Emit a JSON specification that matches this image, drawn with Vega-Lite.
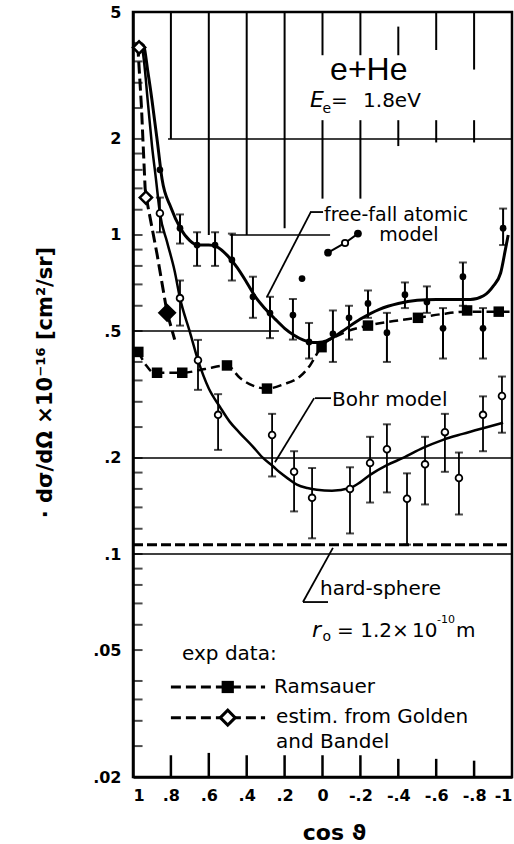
{
  "$schema": "https://vega.github.io/schema/vega-lite/v6.json",
  "width": 379,
  "height": 765,
  "autosize": {"type": "none"},
  "padding": {"left": 133, "top": 12, "right": 2, "bottom": 67},
  "background": "white",
  "config": {
    "view": {"stroke": "black", "strokeWidth": 2.5},
    "font": "DejaVu Sans"
  },
  "datasets": {
    "hgrid": [
      {"v": 2, "c": 0.815, "c2": -1},
      {"v": 1, "c": 0.49, "c2": -0.04},
      {"v": 0.5, "c": 1, "c2": 0.23},
      {"v": 0.2, "c": 1, "c2": -1},
      {"v": 0.1, "c": 1, "c2": -1}
    ],
    "vgrid": [
      {"c": 0.8, "v": 5, "v2": 2},
      {"c": 0.6, "v": 5, "v2": 1},
      {"c": 0.4, "v": 5, "v2": 1},
      {"c": 0.2, "v": 5, "v2": 1.05},
      {"c": 0, "v": 5, "v2": 3.66},
      {"c": 0, "v": 2.29, "v2": 1.3},
      {"c": -0.2, "v": 5, "v2": 3.66},
      {"c": -0.2, "v": 2.29, "v2": 1.3},
      {"c": -0.4, "v": 4.5, "v2": 3.66},
      {"c": -0.4, "v": 2.29, "v2": 1.9},
      {"c": -0.6, "v": 5, "v2": 3.8},
      {"c": -0.6, "v": 2.29, "v2": 1.95},
      {"c": -0.8, "v": 5, "v2": 3.3},
      {"c": -0.8, "v": 2.29, "v2": 1.95}
    ],
    "axticks": [
      {"c": 0.8, "v": 0.02, "v2": 0.0234}, {"c": 0.6, "v": 0.02, "v2": 0.0238},
      {"c": 0.4, "v": 0.02, "v2": 0.0234}, {"c": 0.2, "v": 0.02, "v2": 0.0234},
      {"c": 0, "v": 0.02, "v2": 0.0234}, {"c": -0.2, "v": 0.02, "v2": 0.0234},
      {"c": -0.4, "v": 0.02, "v2": 0.0228}, {"c": -0.6, "v": 0.02, "v2": 0.0228},
      {"c": -0.8, "v": 0.02, "v2": 0.0225}
    ],
    "aytick": [
      {"v": 0.025, "c": 0.976}, {"v": 0.03, "c": 0.976}, {"v": 0.035, "c": 0.976},
      {"v": 0.04, "c": 0.976}, {"v": 0.05, "c": 0.976}, {"v": 0.06, "c": 0.976},
      {"v": 0.07, "c": 0.976}, {"v": 0.08, "c": 0.976}, {"v": 0.09, "c": 0.976},
      {"v": 0.1, "c": 0.976}, {"v": 0.12, "c": 0.976}, {"v": 0.14, "c": 0.976},
      {"v": 0.16, "c": 0.976}, {"v": 0.18, "c": 0.976}, {"v": 0.2, "c": 0.976},
      {"v": 0.25, "c": 0.976}, {"v": 0.3, "c": 0.976}, {"v": 0.35, "c": 0.976},
      {"v": 0.4, "c": 0.976}, {"v": 0.5, "c": 0.976}, {"v": 0.6, "c": 0.976},
      {"v": 0.7, "c": 0.976}, {"v": 0.8, "c": 0.976}, {"v": 0.9, "c": 0.976},
      {"v": 1, "c": 0.976}, {"v": 1.2, "c": 0.976}, {"v": 1.4, "c": 0.976},
      {"v": 1.6, "c": 0.976}, {"v": 1.8, "c": 0.976}, {"v": 2, "c": 0.976},
      {"v": 2.5, "c": 0.976}, {"v": 3, "c": 0.976}, {"v": 3.5, "c": 0.976},
      {"v": 4, "c": 0.976}
    ],
    "hard": [{"c": 1, "v": 0.107}, {"c": -1, "v": 0.107}],
    "ff_curve": [
      {"c": 0.97, "v": 3.95}, {"c": 0.947, "v": 3.95}, {"c": 0.92, "v": 3.2},
      {"c": 0.9, "v": 2.65}, {"c": 0.87, "v": 1.93}, {"c": 0.847, "v": 1.5},
      {"c": 0.8, "v": 1.22}, {"c": 0.75, "v": 1.05}, {"c": 0.7, "v": 0.96},
      {"c": 0.66, "v": 0.93}, {"c": 0.6, "v": 0.93}, {"c": 0.56, "v": 0.92},
      {"c": 0.5, "v": 0.86}, {"c": 0.45, "v": 0.79}, {"c": 0.4, "v": 0.71},
      {"c": 0.35, "v": 0.635}, {"c": 0.3, "v": 0.585}, {"c": 0.25, "v": 0.545},
      {"c": 0.2, "v": 0.51}, {"c": 0.15, "v": 0.485}, {"c": 0.1, "v": 0.468},
      {"c": 0.05, "v": 0.46}, {"c": 0.0, "v": 0.462}, {"c": -0.05, "v": 0.475},
      {"c": -0.1, "v": 0.497}, {"c": -0.2, "v": 0.545}, {"c": -0.3, "v": 0.585},
      {"c": -0.4, "v": 0.61}, {"c": -0.5, "v": 0.624}, {"c": -0.6, "v": 0.628},
      {"c": -0.7, "v": 0.628}, {"c": -0.78, "v": 0.628}, {"c": -0.85, "v": 0.645},
      {"c": -0.9, "v": 0.69}, {"c": -0.94, "v": 0.76}, {"c": -0.965, "v": 0.9},
      {"c": -0.98, "v": 1.0}
    ],
    "bohr_curve": [
      {"c": 0.97, "v": 3.95}, {"c": 0.953, "v": 3.85}, {"c": 0.92, "v": 2.55},
      {"c": 0.9, "v": 1.91}, {"c": 0.879, "v": 1.5}, {"c": 0.858, "v": 1.17},
      {"c": 0.82, "v": 0.95}, {"c": 0.78, "v": 0.77}, {"c": 0.752, "v": 0.634},
      {"c": 0.7, "v": 0.497}, {"c": 0.657, "v": 0.405}, {"c": 0.6, "v": 0.33},
      {"c": 0.541, "v": 0.289}, {"c": 0.49, "v": 0.26}, {"c": 0.435, "v": 0.239},
      {"c": 0.37, "v": 0.218}, {"c": 0.314, "v": 0.2}, {"c": 0.26, "v": 0.188},
      {"c": 0.224, "v": 0.18}, {"c": 0.18, "v": 0.172}, {"c": 0.135, "v": 0.165},
      {"c": 0.08, "v": 0.161}, {"c": 0.03, "v": 0.159}, {"c": -0.05, "v": 0.158},
      {"c": -0.145, "v": 0.161}, {"c": -0.2, "v": 0.168}, {"c": -0.251, "v": 0.177},
      {"c": -0.34, "v": 0.19}, {"c": -0.425, "v": 0.2}, {"c": -0.53, "v": 0.215},
      {"c": -0.636, "v": 0.228}, {"c": -0.74, "v": 0.238}, {"c": -0.847, "v": 0.248},
      {"c": -0.953, "v": 0.258}
    ],
    "ram_line": [
      {"c": 0.972, "v": 0.43}, {"c": 0.93, "v": 0.39}, {"c": 0.89, "v": 0.37},
      {"c": 0.74, "v": 0.37}, {"c": 0.62, "v": 0.38}, {"c": 0.504, "v": 0.39},
      {"c": 0.435, "v": 0.356}, {"c": 0.367, "v": 0.337}, {"c": 0.293, "v": 0.33},
      {"c": 0.208, "v": 0.34}, {"c": 0.119, "v": 0.36}, {"c": 0.066, "v": 0.39},
      {"c": 0.01, "v": 0.443}, {"c": -0.1, "v": 0.49}, {"c": -0.24, "v": 0.52},
      {"c": -0.4, "v": 0.54}, {"c": -0.504, "v": 0.55}, {"c": -0.63, "v": 0.565},
      {"c": -0.763, "v": 0.575}, {"c": -0.93, "v": 0.575}, {"c": -1.0, "v": 0.575}
    ],
    "ram_pts": [
      {"c": 0.972, "v": 0.43}, {"c": 0.873, "v": 0.37}, {"c": 0.74, "v": 0.37},
      {"c": 0.504, "v": 0.39}, {"c": 0.293, "v": 0.33}, {"c": 0.005, "v": 0.445},
      {"c": -0.24, "v": 0.52}, {"c": -0.504, "v": 0.55}, {"c": -0.763, "v": 0.58},
      {"c": -0.93, "v": 0.575}
    ],
    "gold_line": [
      {"c": 0.975, "v": 3.95}, {"c": 0.955, "v": 2.5}, {"c": 0.947, "v": 1.95},
      {"c": 0.936, "v": 1.4}, {"c": 0.93, "v": 1.31}, {"c": 0.873, "v": 0.87},
      {"c": 0.82, "v": 0.57}, {"c": 0.78, "v": 0.47}
    ],
    "gold_open": [{"c": 0.968, "v": 3.87}, {"c": 0.932, "v": 1.31}],
    "gold_big": [{"c": 0.82, "v": 0.57}],
    "ff_pts": [
      {"c": 0.858, "v": 1.6}, {"c": 0.752, "v": 1.05}, {"c": 0.662, "v": 0.93},
      {"c": 0.567, "v": 0.93}, {"c": 0.478, "v": 0.835}, {"c": 0.367, "v": 0.64},
      {"c": 0.277, "v": 0.569}, {"c": 0.156, "v": 0.561}, {"c": 0.108, "v": 0.73},
      {"c": 0.071, "v": 0.462}, {"c": -0.055, "v": 0.49}, {"c": -0.14, "v": 0.55},
      {"c": -0.24, "v": 0.61}, {"c": -0.34, "v": 0.494}, {"c": -0.435, "v": 0.65},
      {"c": -0.551, "v": 0.617}, {"c": -0.636, "v": 0.51}, {"c": -0.741, "v": 0.74},
      {"c": -0.847, "v": 0.51}, {"c": -0.953, "v": 1.05}
    ],
    "ff_err": [
      {"c": 0.752, "v": 0.94, "v2": 1.16}, {"c": 0.662, "v": 0.8, "v2": 1.02},
      {"c": 0.567, "v": 0.8, "v2": 1.02}, {"c": 0.478, "v": 0.72, "v2": 1.01},
      {"c": 0.367, "v": 0.55, "v2": 0.74}, {"c": 0.277, "v": 0.475, "v2": 0.64},
      {"c": 0.156, "v": 0.47, "v2": 0.63}, {"c": 0.071, "v": 0.41, "v2": 0.53},
      {"c": -0.055, "v": 0.4, "v2": 0.58}, {"c": -0.14, "v": 0.47, "v2": 0.6},
      {"c": -0.24, "v": 0.55, "v2": 0.67}, {"c": -0.34, "v": 0.4, "v2": 0.57},
      {"c": -0.435, "v": 0.59, "v2": 0.71}, {"c": -0.551, "v": 0.57, "v2": 0.69},
      {"c": -0.636, "v": 0.41, "v2": 0.59}, {"c": -0.741, "v": 0.6, "v2": 0.82},
      {"c": -0.847, "v": 0.41, "v2": 0.59}, {"c": -0.953, "v": 0.93, "v2": 1.21}
    ],
    "bohr_pts": [
      {"c": 0.858, "v": 1.17}, {"c": 0.752, "v": 0.634}, {"c": 0.657, "v": 0.405},
      {"c": 0.551, "v": 0.273}, {"c": 0.266, "v": 0.236}, {"c": 0.15, "v": 0.181},
      {"c": 0.055, "v": 0.15}, {"c": -0.145, "v": 0.16}, {"c": -0.251, "v": 0.193},
      {"c": -0.34, "v": 0.213}, {"c": -0.446, "v": 0.149}, {"c": -0.541, "v": 0.191},
      {"c": -0.646, "v": 0.241}, {"c": -0.72, "v": 0.173}, {"c": -0.847, "v": 0.273},
      {"c": -0.947, "v": 0.313}
    ],
    "bohr_err": [
      {"c": 0.858, "v": 1.02, "v2": 1.31}, {"c": 0.752, "v": 0.52, "v2": 0.72},
      {"c": 0.657, "v": 0.327, "v2": 0.469}, {"c": 0.551, "v": 0.212, "v2": 0.317},
      {"c": 0.266, "v": 0.175, "v2": 0.275}, {"c": 0.15, "v": 0.136, "v2": 0.21},
      {"c": 0.055, "v": 0.112, "v2": 0.186}, {"c": -0.145, "v": 0.116, "v2": 0.187},
      {"c": -0.251, "v": 0.145, "v2": 0.233}, {"c": -0.34, "v": 0.156, "v2": 0.255},
      {"c": -0.446, "v": 0.107, "v2": 0.179}, {"c": -0.541, "v": 0.143, "v2": 0.233},
      {"c": -0.646, "v": 0.181, "v2": 0.275}, {"c": -0.72, "v": 0.133, "v2": 0.208},
      {"c": -0.847, "v": 0.21, "v2": 0.312}, {"c": -0.947, "v": 0.24, "v2": 0.36}
    ],
    "key_line": [{"c": -0.029, "v": 0.88}, {"c": -0.119, "v": 0.944}, {"c": -0.187, "v": 1.01}],
    "key_ff": [{"c": -0.029, "v": 0.88}, {"c": -0.187, "v": 1.01}],
    "key_bohr": [{"c": -0.119, "v": 0.944}],
    "leaders": [
      {"c": 0.066, "v": 1.18, "c2": -0.003, "v2": 1.18},
      {"c": 0.062, "v": 1.18, "c2": 0.293, "v2": 0.64},
      {"c": 0.04, "v": 0.308, "c2": -0.045, "v2": 0.308},
      {"c": 0.044, "v": 0.308, "c2": 0.251, "v2": 0.194},
      {"c": -0.055, "v": 0.1045, "c2": 0.103, "v2": 0.0707},
      {"c": 0.103, "v": 0.0707, "c2": -0.029, "v2": 0.0707}
    ],
    "legend_lines": [
      {"c": 0.8, "v": 0.0383, "c2": 0.303, "v2": 0.0383},
      {"c": 0.8, "v": 0.0307, "c2": 0.303, "v2": 0.0307}
    ],
    "legend_sq": [{"c": 0.5, "v": 0.0383}],
    "legend_dia": [{"c": 0.5, "v": 0.0307}],
    "t_big": [{"c": -0.04, "v": 3.06, "t": "e+He"}],
    "t_ital": [{"c": 0.066, "v": 2.52, "t": "E"}, {"c": 0.055, "v": 0.055, "t": "r"}],
    "t_sub": [{"c": 0.0, "v": 2.41, "t": "e"}, {"c": 0.0, "v": 0.0535, "t": "o"}],
    "t_20": [
      {"c": -0.045, "v": 2.52, "t": "="},
      {"c": -0.214, "v": 2.52, "t": "1.8eV"},
      {"c": -0.05, "v": 0.291, "t": "Bohr model"},
      {"c": 0.013, "v": 0.0744, "t": "hard-sphere"},
      {"c": -0.077, "v": 0.055, "t": "= 1.2×"},
      {"c": -0.472, "v": 0.055, "t": "10"},
      {"c": -0.704, "v": 0.055, "t": "m"}
    ],
    "t_sup": [{"c": -0.604, "v": 0.0606, "t": "-10"}],
    "t_19": [
      {"c": -0.008, "v": 1.107, "t": "free-fall atomic"},
      {"c": -0.3, "v": 0.957, "t": "model"}
    ],
    "t_leg": [
      {"c": 0.741, "v": 0.0466, "t": "exp data:"},
      {"c": 0.256, "v": 0.0366, "t": "Ramsauer"},
      {"c": 0.245, "v": 0.02945, "t": "estim. from Golden"},
      {"c": 0.245, "v": 0.0247, "t": "and Bandel"}
    ]
  },
  "encoding": {
    "x": {
      "field": "c", "type": "quantitative",
      "scale": {"domain": [-1, 1], "reverse": true, "nice": false, "zero": false},
      "axis": {
        "values": [1, 0.8, 0.6, 0.4, 0.2, 0, -0.2, -0.4, -0.6, -0.8, -1],
        "labelExpr": "replace(toString(datum.value), '0.', '.')",
        "grid": false, "ticks": false,
        "domainColor": "black", "domainWidth": 2.5,
        "labelFont": "DejaVu Sans", "labelFontSize": 16, "labelFontWeight": "bold",
        "labelColor": "black", "labelPadding": 10, "labelFlush": true,
        "title": "cos ϑ", "titleFont": "DejaVu Sans", "titleFontSize": 22,
        "titleFontWeight": "bold", "titleColor": "black",
        "titleX": 201, "titleY": 62, "titleBaseline": "alphabetic", "titleAlign": "center"
      }
    },
    "y": {
      "field": "v", "type": "quantitative",
      "scale": {"type": "log", "domain": [0.02, 5], "nice": false},
      "axis": {
        "values": [0.02, 0.05, 0.1, 0.2, 0.5, 1, 2, 5],
        "labelExpr": "replace(toString(datum.value), '0.', '.')",
        "grid": false, "ticks": false,
        "domainColor": "black", "domainWidth": 2.5,
        "labelFont": "DejaVu Sans", "labelFontSize": 16, "labelFontWeight": "bold",
        "labelColor": "black", "labelPadding": 12, "labelFlush": false,
        "title": "· dσ/dΩ ×10⁻¹⁶ [cm²/sr]", "titleFont": "DejaVu Sans", "titleFontSize": 21,
        "titleFontWeight": "bold", "titleColor": "black", "titleAngle": -90,
        "titleX": -88, "titleY": 370, "titleAlign": "center", "titleBaseline": "middle"
      }
    }
  },
  "layer": [
    {"data": {"name": "hgrid"}, "mark": {"type": "rule", "color": "black", "strokeWidth": 1.5},
     "encoding": {"x2": {"field": "c2"}}},
    {"data": {"name": "vgrid"}, "mark": {"type": "rule", "color": "black", "strokeWidth": 2},
     "encoding": {"y2": {"field": "v2"}}},
    {"data": {"name": "axticks"}, "mark": {"type": "rule", "color": "black", "strokeWidth": 2.5},
     "encoding": {"y2": {"field": "v2"}}},
    {"data": {"name": "aytick"}, "mark": {"type": "tick", "orient": "horizontal", "color": "black", "size": 10, "thickness": 2}},
    {"data": {"name": "hard"}, "mark": {"type": "line", "color": "black", "strokeWidth": 3, "strokeDash": [10, 4]}},
    {"data": {"name": "ram_line"}, "mark": {"type": "line", "color": "black", "strokeWidth": 2.5, "strokeDash": [9, 5], "interpolate": "monotone"}},
    {"data": {"name": "gold_line"}, "mark": {"type": "line", "color": "black", "strokeWidth": 3, "strokeDash": [12, 5]}},
    {"data": {"name": "ff_curve"}, "mark": {"type": "line", "color": "black", "strokeWidth": 3, "interpolate": "monotone"}},
    {"data": {"name": "bohr_curve"}, "mark": {"type": "line", "color": "black", "strokeWidth": 2.5, "interpolate": "monotone"}},
    {"data": {"name": "ff_err"}, "mark": {"type": "rule", "color": "black", "strokeWidth": 2},
     "encoding": {"y2": {"field": "v2"}}},
    {"data": {"name": "ff_err"}, "mark": {"type": "tick", "orient": "horizontal", "color": "black", "size": 8, "thickness": 2}},
    {"data": {"name": "ff_err"}, "mark": {"type": "tick", "orient": "horizontal", "color": "black", "size": 8, "thickness": 2},
     "encoding": {"y": {"field": "v2", "type": "quantitative", "scale": {"type": "log", "domain": [0.02, 5], "nice": false}}}},
    {"data": {"name": "bohr_err"}, "mark": {"type": "rule", "color": "black", "strokeWidth": 1.8},
     "encoding": {"y2": {"field": "v2"}}},
    {"data": {"name": "bohr_err"}, "mark": {"type": "tick", "orient": "horizontal", "color": "black", "size": 8, "thickness": 2}},
    {"data": {"name": "bohr_err"}, "mark": {"type": "tick", "orient": "horizontal", "color": "black", "size": 8, "thickness": 2},
     "encoding": {"y": {"field": "v2", "type": "quantitative", "scale": {"type": "log", "domain": [0.02, 5], "nice": false}}}},
    {"data": {"name": "ram_pts"}, "mark": {"type": "square", "color": "black", "filled": true, "size": 110, "opacity": 1}},
    {"data": {"name": "gold_open"}, "mark": {"type": "point", "shape": "diamond", "fill": "white", "stroke": "black", "strokeWidth": 2.5, "size": 150, "opacity": 1}},
    {"data": {"name": "gold_big"}, "mark": {"type": "point", "shape": "diamond", "fill": "black", "stroke": "black", "strokeWidth": 2, "size": 260, "opacity": 1}},
    {"data": {"name": "ff_pts"}, "mark": {"type": "circle", "color": "black", "size": 45, "opacity": 1}},
    {"data": {"name": "bohr_pts"}, "mark": {"type": "point", "shape": "circle", "fill": "white", "stroke": "black", "strokeWidth": 1.8, "size": 45, "opacity": 1}},
    {"data": {"name": "key_line"}, "mark": {"type": "line", "color": "black", "strokeWidth": 2}},
    {"data": {"name": "key_ff"}, "mark": {"type": "circle", "color": "black", "size": 60, "opacity": 1}},
    {"data": {"name": "key_bohr"}, "mark": {"type": "point", "shape": "circle", "fill": "white", "stroke": "black", "strokeWidth": 1.8, "size": 40, "opacity": 1}},
    {"data": {"name": "leaders"}, "mark": {"type": "rule", "color": "black", "strokeWidth": 1.8},
     "encoding": {"x2": {"field": "c2"}, "y2": {"field": "v2"}}},
    {"data": {"name": "legend_lines"}, "mark": {"type": "rule", "color": "black", "strokeWidth": 3, "strokeDash": [10, 5]},
     "encoding": {"x2": {"field": "c2"}, "y2": {"field": "v2"}}},
    {"data": {"name": "legend_sq"}, "mark": {"type": "square", "color": "black", "filled": true, "size": 150, "opacity": 1}},
    {"data": {"name": "legend_dia"}, "mark": {"type": "point", "shape": "diamond", "fill": "white", "stroke": "black", "strokeWidth": 3, "size": 220, "opacity": 1}},
    {"data": {"name": "t_big"}, "mark": {"type": "text", "font": "Liberation Sans", "fontSize": 32, "align": "left", "baseline": "alphabetic", "color": "black"},
     "encoding": {"text": {"field": "t"}}},
    {"data": {"name": "t_ital"}, "mark": {"type": "text", "font": "DejaVu Sans", "fontStyle": "italic", "fontSize": 22, "align": "left", "baseline": "alphabetic", "color": "black"},
     "encoding": {"text": {"field": "t"}}},
    {"data": {"name": "t_sub"}, "mark": {"type": "text", "font": "DejaVu Sans", "fontSize": 14, "align": "left", "baseline": "alphabetic", "color": "black"},
     "encoding": {"text": {"field": "t"}}},
    {"data": {"name": "t_20"}, "mark": {"type": "text", "font": "DejaVu Sans", "fontSize": 20, "align": "left", "baseline": "alphabetic", "color": "black"},
     "encoding": {"text": {"field": "t"}}},
    {"data": {"name": "t_sup"}, "mark": {"type": "text", "font": "DejaVu Sans", "fontSize": 11, "align": "left", "baseline": "alphabetic", "color": "black"},
     "encoding": {"text": {"field": "t"}}},
    {"data": {"name": "t_19"}, "mark": {"type": "text", "font": "DejaVu Sans", "fontSize": 19, "align": "left", "baseline": "alphabetic", "color": "black"},
     "encoding": {"text": {"field": "t"}}},
    {"data": {"name": "t_leg"}, "mark": {"type": "text", "font": "DejaVu Sans", "fontSize": 20, "align": "left", "baseline": "alphabetic", "color": "black"},
     "encoding": {"text": {"field": "t"}}}
  ]
}
